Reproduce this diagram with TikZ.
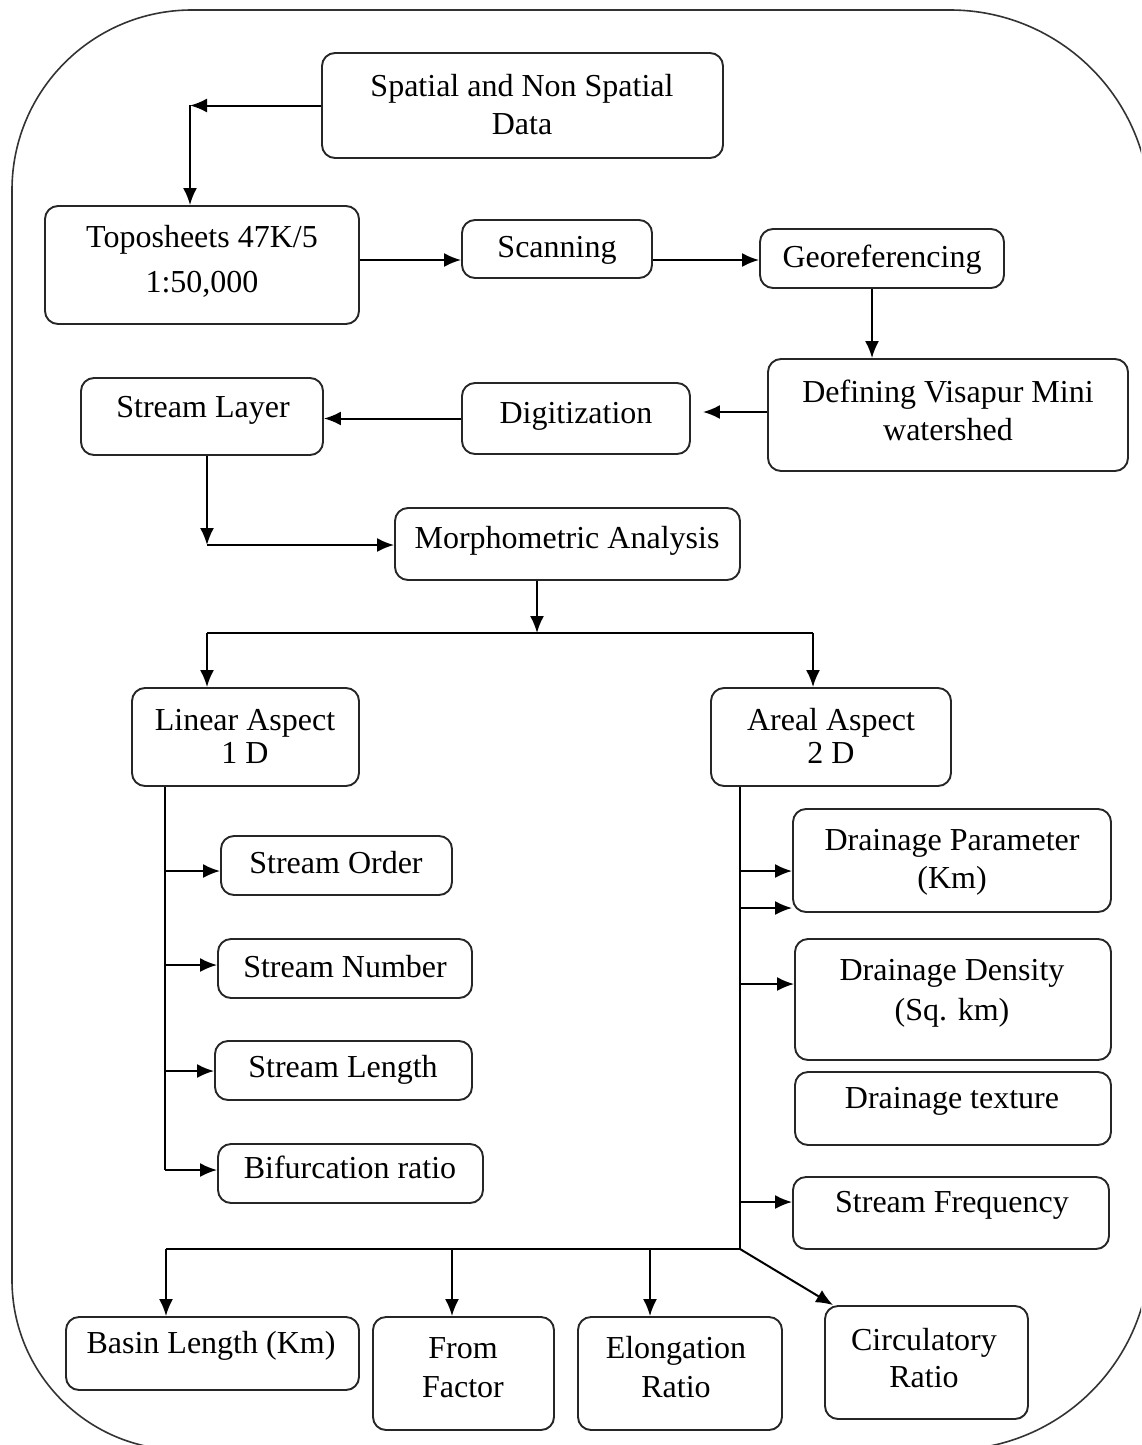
\documentclass[tikz,border=0pt]{standalone}
\usepackage{fontspec}
\setmainfont{Liberation Serif}
\usetikzlibrary{arrows.meta,fit}
\tikzset{
  box/.style={draw=black!85, line width=1.9pt, rounded corners=13pt, inner sep=0pt},
  txt/.style={font=\fontsize{32}{38}\selectfont, align=center, inner sep=0pt, anchor=base},
  arr/.style={line width=2pt, -{Latex[length=17pt,width=14pt]}},
  ln/.style={line width=2pt},
  frame/.style={line width=1.6pt, draw=black!80}
}
\newcommand\mybox[5]{%
  \node[box, fit={(#2,#3) (#4,#5)}] (#1) {};
}
\begin{document}
\begin{tikzpicture}[x=1pt,y=-1pt]
\useasboundingbox (0,0) rectangle (1141,1445);
\clip (0,0) rectangle (1141,1445);
\draw[frame] (12,700) [rounded corners=180pt] -- (12,10) [rounded corners=200pt] -- (1150,10) -- (1150,1450) [rounded corners=170pt] -- (12,1450) -- cycle;

% boxes
\mybox{sp}{322}{53}{723}{158}
\mybox{topo}{45}{206}{359}{324}
\mybox{scan}{462}{220}{652}{278}
\mybox{geo}{760}{229}{1004}{288}
\mybox{def}{768}{359}{1128}{471}
\mybox{dig}{462}{383}{690}{454}
\mybox{sl}{81}{378}{323}{455}
\mybox{mor}{395}{508}{740}{580}
\mybox{lin}{132}{688}{359}{786}
\mybox{are}{711}{688}{951}{786}
\mybox{so}{221}{836}{452}{895}
\mybox{sn}{218}{939}{472}{998}
\mybox{slen}{215}{1041}{472}{1100}
\mybox{bif}{218}{1144}{483}{1203}
\mybox{dp}{793}{809}{1111}{912}
\mybox{dd}{795}{939}{1111}{1060}
\mybox{dt}{795}{1072}{1111}{1145}
\mybox{sf}{793}{1177}{1109}{1249}
\mybox{bl}{66}{1317}{359}{1390}
\mybox{ff}{373}{1317}{554}{1430}
\mybox{er}{578}{1317}{782}{1430}
\mybox{cr}{825}{1306}{1028}{1419}

% texts (base anchor = baseline of the last line)
\node[txt] (sp-t) at (522,134) {Spatial and Non Spatial\\Data};
\node[txt] (topo-t) at (202,292) {Toposheets 47K/5\\[7pt]1:50,000};
\node[txt] (scan-t) at (557,257) {Scanning};
\node[txt] (geo-t) at (882,267) {Georeferencing};
\node[txt] (def-t) at (948,440) {Defining Visapur Mini\\watershed};
\node[txt] (dig-t) at (576,423) {Digitization};
\node[txt] (sl-t) at (203,417) {Stream Layer};
\node[txt] (mor-t) at (567,548) {Morphometric Analysis};
\node[txt] (lin-t) at (245,763) {Linear Aspect\\[-5pt]1 D};
\node[txt] (are-t) at (831,763) {Areal Aspect\\[-5pt]2 D};
\node[txt] (so-t) at (336,873) {Stream Order};
\node[txt] (sn-t) at (345,977) {Stream Number};
\node[txt] (slen-t) at (343,1077) {Stream Length};
\node[txt] (bif-t) at (350,1178) {Bifurcation ratio};
\node[txt] (dp-t) at (952,888) {Drainage Parameter\\(Km)};
\node[txt] (dd-t) at (952,1020) {Drainage Density\\[2pt](Sq. km)};
\node[txt] (dt-t) at (952,1108) {Drainage texture};
\node[txt] (sf-t) at (952,1212) {Stream Frequency};
\node[txt] (bl-t) at (211,1353) {Basin Length (Km)};
\node[txt] (ff-t) at (463,1397) {From\\[1pt]Factor};
\node[txt] (er-t) at (676,1397) {Elongation\\[1pt]Ratio};
\node[txt] (cr-t) at (924,1387) {Circulatory\\[-1pt]Ratio};

% coordinates
\coordinate (c1) at (190,105);
\coordinate (c2) at (207,545);
\coordinate (c3) at (537,633);
\coordinate (c4) at (207,633);
\coordinate (c5) at (813,633);
\coordinate (l1) at (165,1170);
\coordinate (lb1) at (165,871);
\coordinate (lb2) at (165,965);
\coordinate (lb3) at (165,1071);
\coordinate (a1) at (740,1249);
\coordinate (ab1) at (740,871);
\coordinate (ab2) at (740,908);
\coordinate (ab3) at (740,984);
\coordinate (ab4) at (740,1202);
\coordinate (bb1) at (166,1249);
\coordinate (bb2) at (452,1249);
\coordinate (bb3) at (650,1249);

% connectors
\draw[arr] (sp.west) -- (sp.west -| c1);
\draw[arr] (c1) -- (c1 |- topo.north);
\draw[arr] ([yshift=5pt]topo.east) -- ([yshift=5pt]topo.east -| scan.west);
\draw[arr] ([yshift=5pt]topo.east -| scan.east) -- ([yshift=5pt]topo.east -| geo.west);
\draw[arr] ([xshift=-10pt]geo.south) -- ([xshift=-10pt]geo.south |- def.north);
\draw[arr, shorten >=12pt] ([yshift=3pt]def.west) -- ([yshift=3pt]def.west -| dig.east);
\draw[arr] (dig.west) -- (dig.west -| sl.east);
\draw[arr] (sl.south -| c2) -- (c2);
\draw[arr] (c2) -- (c2 -| mor.west);
\draw[arr] (mor.south -| c3) -- (c3);
\draw[ln] (c4) -- (c5);
\draw[arr] (c4) -- (c4 |- lin.north);
\draw[arr] (c5) -- (c5 |- are.north);
% linear
\draw[ln] (lin.south -| l1) -- (l1);
\draw[arr] (lb1) -- (lb1 -| so.west);
\draw[arr] (lb2) -- (lb2 -| sn.west);
\draw[arr] (lb3) -- (lb3 -| slen.west);
\draw[arr] (l1) -- (l1 -| bif.west);
% areal
\draw[ln] (are.south -| a1) -- (a1);
\draw[arr] (ab1) -- (ab1 -| dp.west);
\draw[arr] (ab2) -- (ab2 -| dp.west);
\draw[arr] (ab3) -- (ab3 -| dd.west);
\draw[arr] (ab4) -- (ab4 -| sf.west);
% bottom
\draw[ln] (a1) -- (bb1);
\draw[arr] (bb1) -- (bb1 |- bl.north);
\draw[arr] (bb2) -- (bb2 |- ff.north);
\draw[arr] (bb3) -- (bb3 |- er.north);
\draw[arr] (a1) -- ([xshift=9pt]cr.north west);
\end{tikzpicture}
\end{document}
